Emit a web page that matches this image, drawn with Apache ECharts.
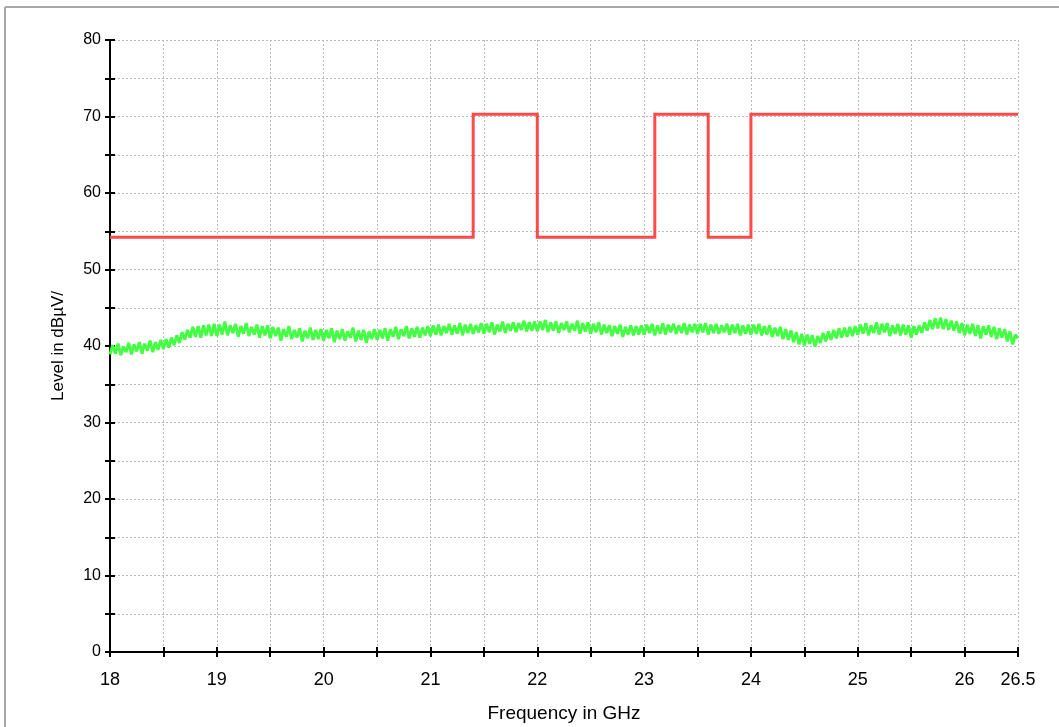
<!DOCTYPE html>
<html>
<head>
<meta charset="utf-8">
<script src="https://cdn.jsdelivr.net/npm/echarts@6/dist/echarts.min.js"></script>
<style>
html,body{margin:0;padding:0;background:#fff;overflow:hidden;}
#chart{width:1059px;height:727px;}
</style>
</head>
<body>
<div id="chart"></div>
<script>
// ---- data ----
const xTitle = 'Frequency in GHz';
const yTitle = 'Level in dBµV/';
const freqStart = 18;
const freqStep = 0.025;
// measured trace (green), one value per frequency step
const traceLevel = [
38.9, 40.1, 39.0, 40.3, 38.8, 39.9, 39.2, 40.4, 38.9, 40.2, 39.3, 40.5, 39.0, 40.3, 39.4, 40.7, 39.2, 40.5, 39.5, 40.8,
39.6, 40.9, 39.8, 41.1, 40.1, 41.4, 40.4, 41.8, 40.8, 42.1, 41.1, 42.5, 41.2, 42.6, 41.1, 42.7, 41.4, 42.8, 41.3, 42.9,
41.3, 42.8, 41.5, 43.2, 41.4, 42.7, 41.7, 42.9, 41.2, 42.6, 41.6, 43.0, 41.3, 42.5, 41.5, 42.8, 41.1, 42.6, 41.4, 42.7,
41.0, 42.5, 41.3, 42.4, 40.7, 42.2, 41.2, 42.6, 40.9, 42.1, 41.1, 42.3, 40.6, 42.0, 41.0, 42.4, 40.8, 42.1, 40.9, 42.2,
40.7, 42.1, 41.0, 42.3, 40.5, 42.0, 40.9, 42.2, 40.7, 41.9, 41.1, 42.4, 40.6, 42.0, 40.8, 42.1, 40.4, 41.9, 40.9, 42.2,
40.8, 42.1, 41.0, 42.3, 40.7, 42.2, 41.2, 42.5, 40.9, 42.2, 41.3, 42.6, 41.0, 42.3, 41.2, 42.5, 41.1, 42.4, 41.4, 42.6,
41.3, 42.7, 41.5, 42.8, 41.4, 42.6, 41.7, 42.9, 41.5, 42.7, 41.6, 43.0, 41.4, 42.8, 41.7, 42.9, 41.6, 42.7, 41.8, 43.0,
41.6, 42.9, 41.8, 43.1, 41.5, 42.8, 41.9, 43.2, 41.7, 42.9, 42.0, 43.1, 41.8, 43.0, 42.1, 43.3, 41.9, 43.1, 42.0, 43.2,
41.9, 43.2, 42.1, 43.4, 41.8, 43.1, 42.0, 43.2, 41.7, 43.0, 42.1, 43.2, 41.8, 42.9, 42.0, 43.3, 41.6, 43.0, 41.9, 43.1,
41.6, 42.9, 41.8, 43.1, 41.5, 42.8, 41.7, 42.7, 41.3, 42.6, 41.6, 42.8, 41.2, 42.5, 41.5, 42.7, 41.4, 42.6, 41.5, 42.7,
41.5, 42.8, 41.7, 42.9, 41.4, 42.7, 41.6, 43.0, 41.5, 42.8, 41.8, 42.9, 41.6, 42.7, 41.7, 43.0, 41.5, 42.8, 41.8, 42.9,
41.6, 42.9, 41.8, 43.0, 41.5, 42.8, 41.7, 42.9, 41.6, 42.7, 41.8, 42.9, 41.5, 42.8, 41.7, 42.9, 41.4, 42.7, 41.6, 42.8,
41.5, 42.8, 41.6, 42.9, 41.4, 42.6, 41.5, 42.7, 41.2, 42.4, 41.3, 42.5, 40.9, 42.2, 40.8, 42.0, 40.5, 41.8, 40.2, 41.6,
40.0, 41.5, 40.3, 41.4, 39.9, 41.3, 40.4, 41.7, 40.6, 41.9, 40.8, 42.1, 41.0, 42.3, 41.1, 42.4, 41.2, 42.5, 41.3, 42.6,
41.5, 42.8, 41.6, 43.0, 41.4, 42.7, 41.7, 43.1, 41.5, 42.9, 41.8, 43.0, 41.3, 42.7, 41.6, 42.9, 41.4, 42.8, 41.5, 42.7,
41.1, 42.6, 41.5, 42.7, 41.7, 43.1, 42.0, 43.4, 42.2, 43.6, 42.3, 43.7, 42.2, 43.5, 42.1, 43.3, 42.0, 43.2, 41.7, 43.0,
41.4, 42.8, 41.6, 42.9, 41.3, 42.7, 41.0, 42.6, 41.5, 42.7, 41.2, 42.5, 40.9, 42.3, 41.1, 42.2, 40.6, 41.9, 40.2, 41.5, 41.0
];
// limit line (red)
const limitFreq  = [18, 21.4, 21.4, 22, 22, 23.1, 23.1, 23.6, 23.6, 24, 24, 26.5];
const limitLevel = [54.2, 54.2, 70.3, 70.3, 54.2, 54.2, 70.3, 70.3, 54.2, 54.2, 70.3, 70.3];
// axes
const xMin = 18, xMax = 26.5, xStep = 0.5;
const yMin = 0, yMax = 80, yStep = 5;

// ---- build ----
const traceData = traceLevel.map((v, i) => [+(freqStart + i * freqStep).toFixed(4), v]);
const limitData = limitFreq.map((f, i) => [f, limitLevel[i]]);

const FONT = '"Liberation Sans", Arial, sans-serif';
const gridLine = { show: true, lineStyle: { color: '#b8b8b8', type: [2, 2], width: 1 } };

const chart = echarts.init(document.getElementById('chart'), null, { renderer: 'canvas', width: 1059, height: 727 });
chart.setOption({
  animation: false,
  backgroundColor: '#fff',
  grid: { left: 110, right: 41, top: 40, bottom: 75, containLabel: false, outerBoundsMode: 'none' },
  xAxis: [{
    type: 'value', min: xMin, max: xMax, interval: xStep,
    name: xTitle, nameLocation: 'middle', nameGap: 52,
    nameTextStyle: { fontFamily: FONT, fontSize: 19, color: '#000' },
    axisLine: { show: true, onZero: false, lineStyle: { color: '#000', width: 2 } },
    axisTick: { show: true, inside: false, length: 5, lineStyle: { color: '#000', width: 2 } },
    axisLabel: {
      margin: 19, fontFamily: FONT, fontSize: 18, color: '#000',
      formatter: v => (Math.abs(v - Math.round(v)) < 1e-6 || Math.abs(v - xMax) < 1e-6) ? String(v) : ''
    },
    splitLine: gridLine
  }, {
    type: 'value', min: xMin, max: xMax, interval: xStep, position: 'bottom',
    axisLine: { show: false }, axisLabel: { show: false }, splitLine: { show: false },
    axisTick: { show: true, inside: true, length: 5, lineStyle: { color: '#000', width: 2 } }
  }],
  yAxis: [{
    type: 'value', min: yMin, max: yMax, interval: yStep,
    name: yTitle, nameLocation: 'middle', nameGap: 43, nameRotate: 90,
    nameTextStyle: { fontFamily: FONT, fontSize: 17, color: '#000' },
    axisLine: { show: true, onZero: false, lineStyle: { color: '#000', width: 2 } },
    axisTick: { show: true, inside: false, length: 5, lineStyle: { color: '#000', width: 2 } },
    axisLabel: {
      margin: 9, fontFamily: FONT, fontSize: 16, color: '#000',
      formatter: v => (v % 10 === 0) ? String(v) : ''
    },
    splitLine: gridLine
  }, {
    type: 'value', min: yMin, max: yMax, interval: yStep, position: 'left',
    axisLine: { show: false }, axisLabel: { show: false }, splitLine: { show: false },
    axisTick: { show: true, inside: true, length: 5, lineStyle: { color: '#000', width: 2 } }
  }],
  series: [{
    type: 'line', xAxisIndex: 0, yAxisIndex: 0, data: traceData,
    showSymbol: false, symbol: 'none', silent: true,
    lineStyle: { color: '#44ff44', width: 3 }, z: 3
  }, {
    type: 'line', xAxisIndex: 0, yAxisIndex: 0, data: limitData,
    showSymbol: false, symbol: 'none', silent: true,
    lineStyle: { color: '#ff4a4a', width: 3, join: 'miter' }, z: 4
  }],
  graphic: [
    { type: 'line', shape: { x1: 5, y1: 7, x2: 1059, y2: 7 }, style: { stroke: '#a8a8a8', lineWidth: 2 } },
    { type: 'line', shape: { x1: 5, y1: 7, x2: 5, y2: 727 }, style: { stroke: '#a8a8a8', lineWidth: 2 } }
  ]
});
</script>
</body>
</html>
